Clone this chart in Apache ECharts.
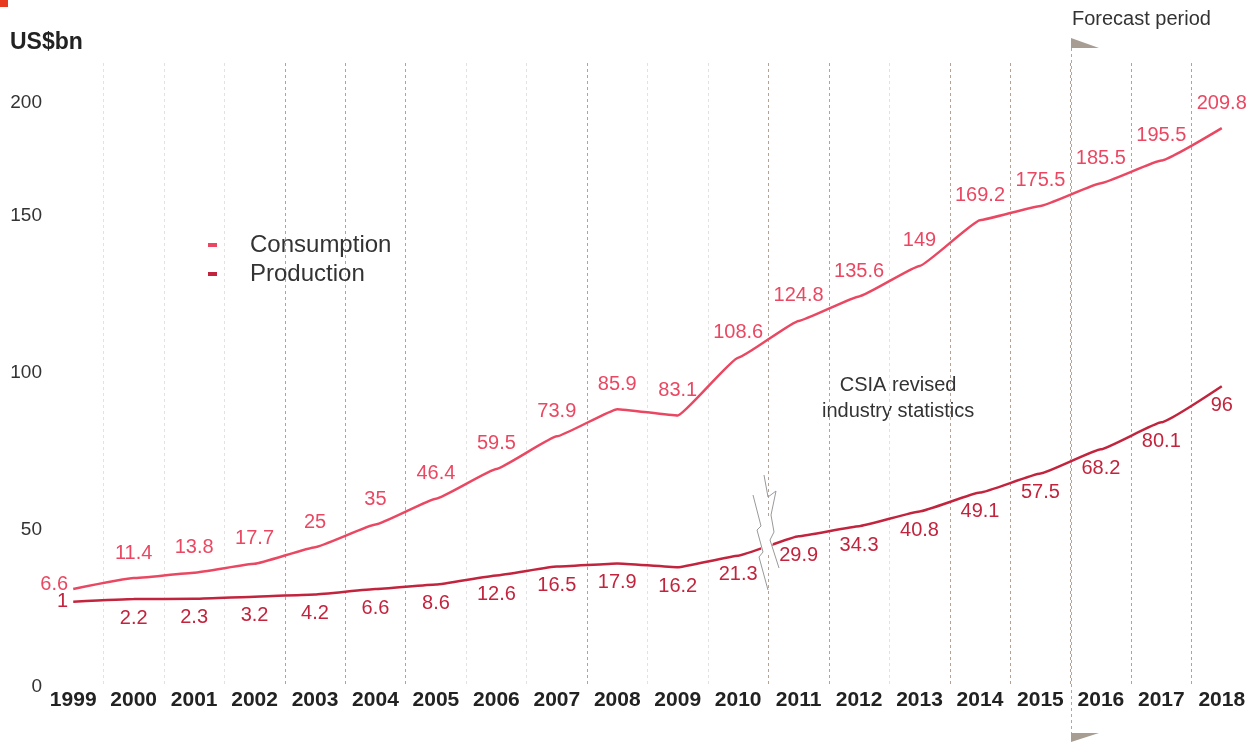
<!DOCTYPE html>
<html>
<head>
<meta charset="utf-8">
<script src="https://cdn.jsdelivr.net/npm/echarts@6/dist/echarts.min.js"></script>
<style>html,body{margin:0;padding:0;background:#fff}#c{width:1256px;height:742px}</style>
</head>
<body>
<div id="c"></div>
<script>
var years = ['1999','2000','2001','2002','2003','2004','2005','2006','2007','2008','2009','2010','2011','2012','2013','2014','2015','2016','2017','2018'];
var consumption = [6.6,11.4,13.8,17.7,25,35,46.4,59.5,73.9,85.9,83.1,108.6,124.8,135.6,149,169.2,175.5,185.5,195.5,209.8];
var production = [1,2.2,2.3,3.2,4.2,6.6,8.6,12.6,16.5,17.9,16.2,21.3,29.9,34.3,40.8,49.1,57.5,68.2,80.1,96];
var yTickValues = [0,50,100,150,186];
var yTickLabels = ['0','50','100','150','200'];

var FONT = '"Liberation Sans", Arial, Helvetica, sans-serif';
var cCol = '#ea4862', pCol = '#c2243d';
var L = '#e2e2e2', B = '#b3a397', T = 'rgba(0,0,0,0)';
var splitColors = [T, L,L,L,B,B,B,L,L,B,L,L,B,B,L,B,B,B,B,B, T];

function mk(arr, off){
  return arr.map(function(v,i){ return i===0 ? {value:v, label:{position:'left', distance:5, offset:[0, off]}} : v; });
}

var chart = echarts.init(document.getElementById('c'), null, {renderer:'canvas'});
chart.setOption({
  animation:false,
  textStyle:{fontFamily:FONT},
  grid:{left:43, right:4, top:63, bottom:55, containLabel:false},
  legend:{
    orient:'vertical', left:203, top:228, itemWidth:9, itemHeight:4, itemGap:5,
    icon:'rect',
    textStyle:{fontSize:24, color:'#333', fontFamily:FONT, padding:[0,0,0,28]},
    data:['Consumption','Production']
  },
  xAxis:{
    type:'category', data:years, boundaryGap:true,
    axisLine:{show:false}, axisTick:{show:false},
    axisLabel:{fontSize:21, fontWeight:'bold', color:'#222', margin:3, fontFamily:FONT, interval:0},
    splitLine:{show:true, lineStyle:{color:splitColors, type:[3,3], width:1}}
  },
  yAxis:[
    {type:'value', min:-36.6, max:238.5, show:false},
    {type:'value', min:0, max:198.7, position:'left',
     axisLine:{show:false}, axisTick:{show:false}, splitLine:{show:false},
     axisLabel:{show:true, customValues:yTickValues, fontSize:19, color:'#333', margin:1, fontFamily:FONT,
       formatter:function(v){ var i=yTickValues.indexOf(v); return i>=0?yTickLabels[i]:''; }}
    }
  ],
  series:[
    {name:'Consumption', type:'line', yAxisIndex:0, data:mk(consumption, -5), smooth:0.1, smoothMonotone:'x',
     symbol:'circle', symbolSize:0.1, showSymbol:true, lineStyle:{color:cCol, width:2.5}, itemStyle:{color:cCol},
     label:{show:true, position:'top', distance:15, color:cCol, fontSize:20, fontFamily:FONT}},
    {name:'Production', type:'line', yAxisIndex:0, data:mk(production, 0), smooth:0.1, smoothMonotone:'x',
     symbol:'circle', symbolSize:0.1, showSymbol:true, lineStyle:{color:pCol, width:2.5}, itemStyle:{color:pCol},
     label:{show:true, position:'bottom', distance:9, color:pCol, fontSize:20, fontFamily:FONT}}
  ],
  graphic:[
    {type:'text', left:10, top:31, style:{text:'US$bn', font:'bold 23px '+FONT, fill:'#222'}},
    {type:'text', left:1072, top:9, style:{text:'Forecast period', font:'20px '+FONT, fill:'#333'}},
    {type:'text', left:822, top:372, style:{text:'CSIA revised\nindustry statistics', font:'20px '+FONT, fill:'#333', textAlign:'center', lineHeight:26}},
    {type:'line', shape:{x1:1071.5,y1:48,x2:1071.5,y2:733}, style:{stroke:'#b3a89f', lineWidth:1, lineDash:[3,3]}, z:1},
    {type:'polygon', shape:{points:[[1071,38],[1071,48],[1099,48]]}, style:{fill:'#a89d93'}},
    {type:'polygon', shape:{points:[[1071,733],[1099,733],[1071,742]]}, style:{fill:'#a89d93'}},
    {type:'polygon', shape:{points:[[759,527],[771,514],[775,532],[771,552],[762,556]]}, style:{fill:'#fff'}, z:100},
    {type:'polyline', shape:{points:[[753,495],[761,526],[757,530],[763,552],[759,557],[768,590]]}, style:{stroke:'#999', lineWidth:1, fill:null}, z:101},
    {type:'polyline', shape:{points:[[764,475],[768,497],[776,491],[771,515],[774,532],[770,540],[779,568]]}, style:{stroke:'#999', lineWidth:1, fill:null}, z:101},
    {type:'rect', shape:{x:0,y:0,width:8,height:7}, style:{fill:'#e8391f'}}
  ]
});
</script>
</body>
</html>
